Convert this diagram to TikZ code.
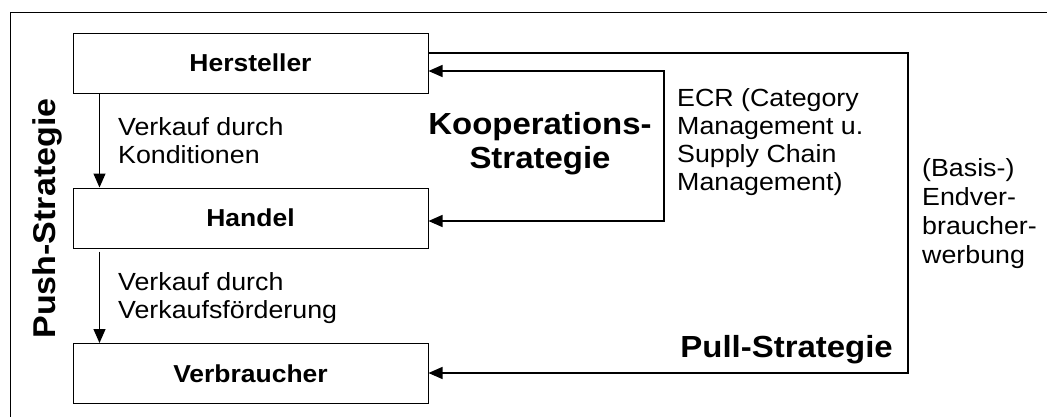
\documentclass[tikz,border=0pt]{standalone}
\usepackage{fontspec}
\setmainfont{Liberation Sans}[FakeStretch=1.08]
\usetikzlibrary{arrows.meta,calc}
\begin{document}
\begin{tikzpicture}[x=1pt,y=-1pt,
  every node/.style={inner sep=0pt},
  stage/.style={draw,line width=1pt,minimum width=355pt,minimum height=60pt,
    font=\fontsize{24.5}{28}\selectfont\bfseries},
  note/.style={align=left,anchor=north west,font=\fontsize{24.8}{28}\selectfont},
  big/.style={font=\fontsize{30.5}{34}\selectfont\bfseries},
  flow/.style={line width=1.3pt,-{Triangle[length=14pt,width=12pt]}},
  twoway/.style={line width=1.3pt,{Triangle[length=14pt,width=12pt]}-{Triangle[length=14pt,width=12pt]}},
  frame/.style={line width=1pt}]
\useasboundingbox (0,0) rectangle (1047,416);
\fill[white] (0,0) rectangle (1047,416);

% outer frame
\draw[frame] (10,420) -- (10,12) -- (1050,12);

% the three stages
\node[stage] (her) at (250.5,63) {Hersteller};
\node[stage] (han) at (250.5,218) {Handel};
\node[stage] (ver) at (250.5,373.5) {Verbraucher};

% push strategy: downward flow
\draw[flow] ($(her.south west)+(27,0)$) -- ($(han.north west)+(27,0)$);
\draw[flow] ($(han.south west)+(27,3)$) -- ($(ver.north west)+(27,0)$);
\node[note] (k1) at (118,117) {Verkauf durch\\Konditionen};
\node[note] (k2) at (118,272) {Verkauf durch\\Verkaufsförderung};
\node[big,rotate=90,anchor=base,font=\fontsize{31.5}{34}\selectfont\bfseries] (push) at (55,218.5) {Push-Strategie};

% cooperation strategy: inner loop
\coordinate (kt) at (664,71);
\coordinate (kb) at (664,221);
\draw[twoway] (her.east |- kt) -- (kt) -- (kb) -- (han.east |- kb);
\node[big,align=center] (koop) at (540,144) {Kooperations-\\Strategie};
\node[note] (ecr) at (677,88) {ECR (Category\\Management u.\\Supply Chain\\Management)};

% pull strategy: outer loop
\coordinate (pt) at (908,53);
\coordinate (pb) at (908,373);
\draw[flow] (her.east |- pt) -- (pt) -- (pb) -- (ver.east |- pb);
\node[big,anchor=base east] (pull) at (893,357) {Pull-Strategie};
\node[note,font=\fontsize{24.8}{29}\selectfont] (werb) at (922,158) {(Basis-)\\Endver-\\braucher-\\werbung};
\end{tikzpicture}
\end{document}
